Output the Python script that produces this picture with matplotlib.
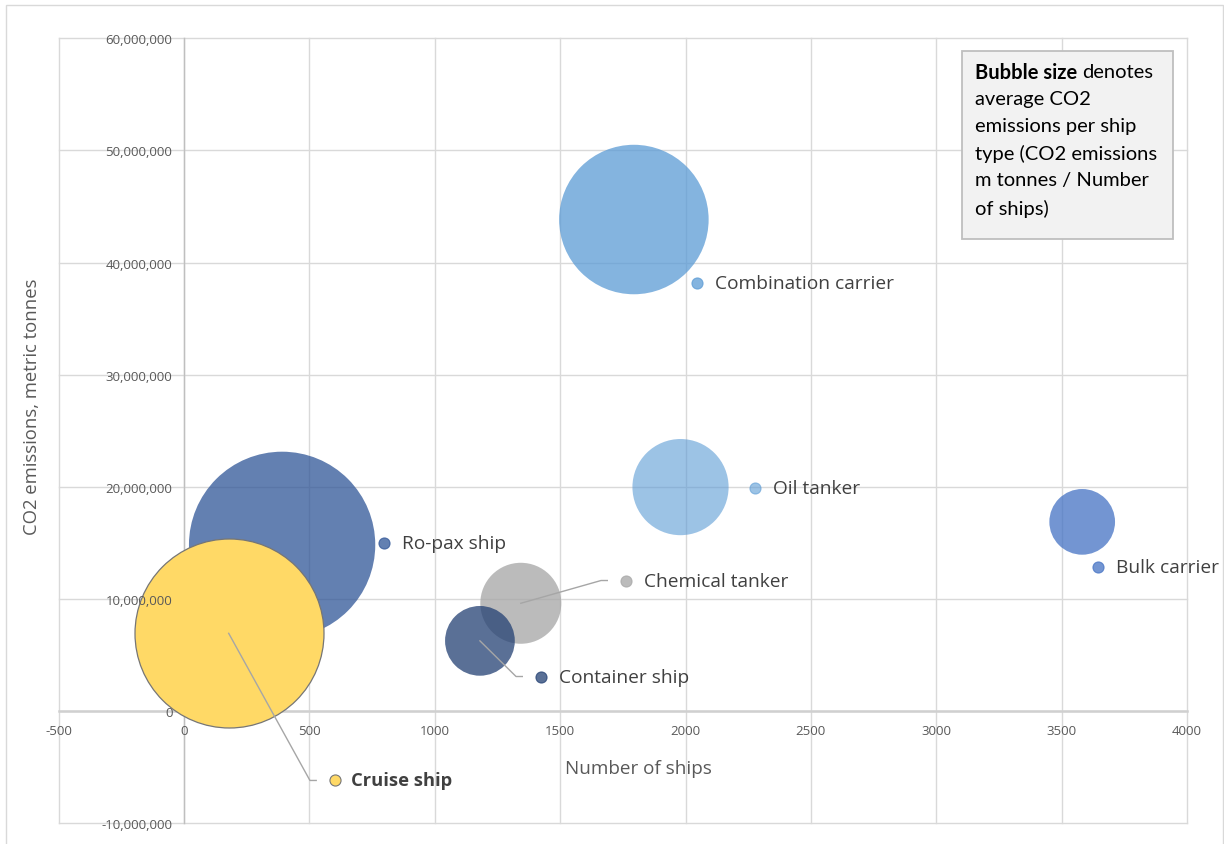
import matplotlib
matplotlib.use('Agg')
import matplotlib.pyplot as plt
from matplotlib.patches import Rectangle
from matplotlib.ticker import FuncFormatter, FixedLocator
import numpy as np

plt.rcParams['font.family'] = ['Open Sans', 'DejaVu Sans']

# ---------------- data ----------------
ship_types = ['Combination carrier', 'Oil tanker', 'Bulk carrier', 'Ro-pax ship',
              'Chemical tanker', 'Container ship', 'Cruise ship']
num_ships = [1794, 1980, 3582, 391, 1343, 1180, 178]
co2_emissions = [43_840_000, 19_980_000, 16_880_000, 14_830_000,
                 9_620_000, 6_270_000, 6_940_000]
avg_co2_per_ship = [24_400, 10_100, 4_710, 37_900, 7_160, 5_310, 39_000]
label_x = [2045, 2277, 3646, 796, 1763, 1424, 602]
label_y = [38_200_000, 19_900_000, 12_870_000, 14_980_000,
           11_650_000, 3_090_000, -6_180_000]
has_leader = [False, False, False, False, True, True, True]
x_ticks = [-500, 0, 500, 1000, 1500, 2000, 2500, 3000, 3500, 4000]
y_ticks = [-10_000_000, 0, 10_000_000, 20_000_000, 30_000_000,
           40_000_000, 50_000_000, 60_000_000]

# ---------------- styles ----------------
colors = ['#5B9BD5', '#5B9BD5', '#4472C4', '#2F5597', '#A5A5A5', '#234073', '#FFD966']
alphas = [0.75, 0.60, 0.75, 0.75, 0.75, 0.75, 1.0]
edgecolors = ['none'] * 6 + ['#767676']
bold = [False] * 6 + [True]

W, H, DPI = 1224, 845, 100
fig = plt.figure(figsize=(W / DPI, H / DPI), dpi=DPI)
fig.patch.set_facecolor('white')

# plot area in pixels
px_l, px_r, px_t, px_b = 58.7, 1187.0, 39.3, 824.3
rect = [px_l / W, 1 - px_b / H, (px_r - px_l) / W, (px_b - px_t) / H]

ax = fig.add_axes(rect)
ax.set_xlim(x_ticks[0], x_ticks[-1])
ax.set_ylim(y_ticks[0], y_ticks[-1])
ax.xaxis.set_major_locator(FixedLocator(x_ticks))
ax.yaxis.set_major_locator(FixedLocator(y_ticks))
ax.set_axisbelow(True)
ax.grid(True, color='#D9D9D9', linewidth=1.0, clip_on=False)
ax.tick_params(length=0, labelleft=False, labelbottom=False)
ax.spines['left'].set_position(('data', 0))
ax.spines['bottom'].set_position(('data', 0))
ax.spines['left'].set_color('#BFBFBF')
ax.spines['left'].set_linewidth(1.0)
ax.spines['bottom'].set_color('#D0D0D0')
ax.spines['bottom'].set_linewidth(1.8)
ax.spines['top'].set_visible(False)
ax.spines['right'].set_visible(False)

# bubbles (area proportional to average CO2 per ship)
max_diam_pt = 189 * 72 / DPI
avg = np.array(avg_co2_per_ship, dtype=float)
sizes = max_diam_pt ** 2 * avg / avg.max()
for i in range(len(ship_types)):
    ax.scatter(num_ships[i], co2_emissions[i], s=sizes[i], color=colors[i],
               alpha=alphas[i], edgecolors=edgecolors[i],
               linewidths=0.9 if edgecolors[i] != 'none' else 0, zorder=2 + (i == 6))

# leader lines, label keys and labels
elbow_off, end_off = 100, 75  # data units left of the key
for i in range(len(ship_types)):
    if has_leader[i]:
        ax.plot([num_ships[i], label_x[i] - elbow_off, label_x[i] - end_off],
                [co2_emissions[i], label_y[i], label_y[i]],
                color='#A6A6A6', linewidth=1.0, zorder=4)
    ax.plot(label_x[i], label_y[i], marker='o', markersize=8,
            color=colors[i], alpha=alphas[i],
            markeredgecolor=edgecolors[i] if edgecolors[i] != 'none' else colors[i],
            markeredgewidth=0.8, linestyle='none', zorder=5)
    ax.annotate(ship_types[i], xy=(label_x[i], label_y[i]),
                xytext=(11.5 if bold[i] else 13, 0),
                textcoords='offset points', va='center', ha='left',
                fontsize=13.2 if bold[i] else 13.8, color='#404040',
                fontweight='bold' if bold[i] else 'normal', zorder=6)

# overlay axes for tick labels (drawn over bubbles)
ax2 = fig.add_axes(rect, sharex=ax, sharey=ax)
ax2.set_zorder(ax.get_zorder() + 1)
ax2.patch.set_visible(False)
for s in ax2.spines.values():
    s.set_visible(False)
ax2.spines['left'].set_position(('data', 0))
ax2.spines['bottom'].set_position(('data', 0))
ax2.tick_params(length=0, labelsize=9.5, labelcolor='#595959')
ax2.tick_params(axis='y', pad=8.4)
ax2.tick_params(axis='x', pad=9)
ax2.yaxis.set_major_formatter(FuncFormatter(lambda v, p: f'{int(v):,}'))
ax2.xaxis.set_major_formatter(FuncFormatter(lambda v, p: f'{int(v)}'))

# axis titles
fig.text(638 / W, 1 - 769 / H, 'Number of ships', ha='center', va='center',
         fontsize=13.6, color='#595959')
fig.text(32 / W, 1 - 406.5 / H, 'CO2 emissions, metric tonnes', ha='center',
         va='center', rotation=90, fontsize=13.3, color='#595959')

# note box
aw, ah = px_r - px_l, px_b - px_t
def axfx(px):
    return (px - px_l) / aw
def axfy(py):
    return 1 - (py - px_t) / ah
box = Rectangle((axfx(962), axfy(240)), axfx(1173.3) - axfx(962), axfy(51.7) - axfy(240),
                transform=ax.transAxes, facecolor='#F2F2F2', edgecolor='#BFBFBF',
                linewidth=1.3, zorder=7, clip_on=False)
ax.add_patch(box)
box_fs = 14.5
t1 = ax.text(axfx(974.7), axfy(73), 'Bubble size', transform=ax.transAxes,
             fontsize=box_fs, family='Lato', fontweight='bold', color='black',
             va='center', ha='left', zorder=8)
ax.annotate('denotes', xy=(1, 0.5), xycoords=t1, xytext=(4, 0),
            textcoords='offset points', va='center', ha='left',
            fontsize=box_fs, family='Lato', color='black', zorder=8)
ax.text(axfx(974.7), axfy(91.5), 'average CO2\nemissions per ship\ntype (CO2 emissions\nm tonnes / Number\nof ships)',
        transform=ax.transAxes, fontsize=box_fs, family='Lato', color='black',
        va='top', ha='left', linespacing=1.67, zorder=8)

# outer chart border
fig.patches.append(Rectangle((5.7 / W, -0.05), (1223 - 5.7) / W, 1 - 6.3 / H + 0.05,
                             transform=fig.transFigure, fill=False,
                             edgecolor='#D9D9D9', linewidth=1.0))

fig.savefig('out.png', dpi=DPI)
